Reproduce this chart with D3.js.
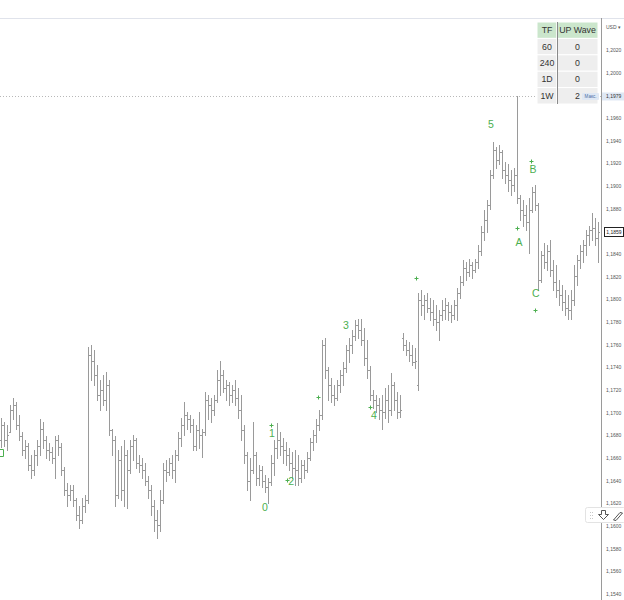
<!DOCTYPE html>
<html><head><meta charset="utf-8">
<script src="https://cdn.jsdelivr.net/npm/d3@7"></script>
<style>html,body{margin:0;padding:0;background:#fff;}svg{display:block;}</style>
</head><body>
<svg id="c" width="624" height="600"></svg>
<script>
// OHLC prices (EUR/USD), one bar per entry
const opens = [1.1676,1.1689,1.1676,1.1683,1.1702,1.1707,1.1689,1.1679,1.1667,1.1671,1.1654,1.1649,1.1663,1.1671,1.1686,1.1676,1.1667,1.1665,1.1660,1.1676,
1.1670,1.1649,1.1632,1.1627,1.1632,1.1623,1.1610,1.1605,1.1618,1.1623,1.1751,1.1746,1.1733,1.1716,1.1720,1.1711,1.1724,1.1685,1.1676,1.1627,
1.1658,1.1632,1.1663,1.1649,1.1671,1.1676,1.1656,1.1654,1.1649,1.1640,1.1632,1.1618,1.1605,1.1601,1.1623,1.1649,1.1648,1.1656,1.1649,1.1663,
1.1678,1.1689,1.1698,1.1694,1.1689,1.1671,1.1685,1.1680,1.1683,1.1711,1.1707,1.1702,1.1711,1.1729,1.1733,1.1722,1.1724,1.1716,1.1720,1.1713,
1.1702,1.1685,1.1663,1.1640,1.1649,1.1663,1.1642,1.1649,1.1640,1.1634,1.1639,1.1656,1.1669,1.1676,1.1671,1.1667,1.1663,1.1656,1.1651,1.1649,
1.1642,1.1654,1.1649,1.1660,1.1674,1.1680,1.1689,1.1698,1.1760,1.1738,1.1724,1.1716,1.1713,1.1724,1.1733,1.1739,1.1755,1.1760,1.1768,1.1777,
1.1773,1.1764,1.1748,1.1738,1.1716,1.1711,1.1707,1.1702,1.1701,1.1711,1.1702,1.1724,1.1711,1.1701,1.1766,1.1760,1.1755,1.1751,1.1745,1.1724,
1.1799,1.1795,1.1799,1.1792,1.1789,1.1783,1.1780,1.1786,1.1791,1.1795,1.1789,1.1786,1.1795,1.1806,1.1815,1.1828,1.1824,1.1830,1.1826,1.1833,
1.1843,1.1859,1.1870,1.1883,1.1910,1.1932,1.1923,1.1930,1.1914,1.1910,1.1905,1.1901,1.1910,1.1889,1.1879,1.1874,1.1868,1.1879,1.1895,1.1883,
1.1817,1.1839,1.1833,1.1843,1.1826,1.1815,1.1808,1.1804,1.1798,1.1792,1.1791,1.1799,1.1821,1.1835,1.1843,1.1848,1.1857,1.1861,1.1863,1.1854];
const highs = [1.1695,1.1692,1.1689,1.1707,1.1713,1.1709,1.1698,1.1683,1.1676,1.1673,1.1663,1.1667,1.1676,1.1694,1.1692,1.1679,1.1673,1.1670,1.1679,1.1680,
1.1673,1.1652,1.1638,1.1636,1.1636,1.1625,1.1618,1.1625,1.1627,1.1758,1.1760,1.1755,1.1742,1.1729,1.1733,1.1736,1.1729,1.1686,1.1679,1.1667,
1.1671,1.1676,1.1667,1.1676,1.1680,1.1678,1.1663,1.1660,1.1656,1.1644,1.1636,1.1623,1.1614,1.1632,1.1656,1.1658,1.1660,1.1663,1.1667,1.1683,
1.1695,1.1709,1.1701,1.1698,1.1694,1.1689,1.1701,1.1686,1.1718,1.1716,1.1713,1.1716,1.1738,1.1746,1.1738,1.1729,1.1727,1.1724,1.1729,1.1722,
1.1716,1.1689,1.1665,1.1660,1.1692,1.1665,1.1654,1.1653,1.1645,1.1642,1.1663,1.1676,1.1691,1.1683,1.1678,1.1674,1.1669,1.1665,1.1667,1.1663,
1.1658,1.1658,1.1665,1.1678,1.1685,1.1694,1.1702,1.1764,1.1766,1.1740,1.1731,1.1724,1.1729,1.1738,1.1745,1.1760,1.1766,1.1773,1.1782,1.1783,
1.1783,1.1775,1.1764,1.1741,1.1720,1.1716,1.1713,1.1716,1.1722,1.1724,1.1735,1.1727,1.1718,1.1716,1.1770,1.1764,1.1762,1.1760,1.1757,1.1806,
1.1808,1.1804,1.1806,1.1801,1.1799,1.1795,1.1791,1.1799,1.1801,1.1798,1.1795,1.1799,1.1810,1.1821,1.1835,1.1833,1.1836,1.1833,1.1836,1.1848,
1.1865,1.1879,1.1888,1.1914,1.1939,1.1934,1.1936,1.1932,1.1921,1.1919,1.1914,1.1916,1.1979,1.1892,1.1888,1.1883,1.1889,1.1899,1.1901,1.1885,
1.1843,1.1850,1.1848,1.1852,1.1835,1.1830,1.1817,1.1813,1.1808,1.1804,1.1808,1.1830,1.1839,1.1848,1.1852,1.1861,1.1865,1.1876,1.1872,1.1868];
const lows = [1.1670,1.1671,1.1667,1.1683,1.1694,1.1686,1.1676,1.1663,1.1660,1.1649,1.1642,1.1645,1.1654,1.1663,1.1669,1.1660,1.1658,1.1656,1.1642,1.1663,
1.1645,1.1627,1.1618,1.1623,1.1618,1.1605,1.1598,1.1603,1.1612,1.1620,1.1729,1.1724,1.1711,1.1702,1.1707,1.1702,1.1680,1.1663,1.1618,1.1625,
1.1623,1.1618,1.1616,1.1647,1.1658,1.1651,1.1648,1.1642,1.1636,1.1625,1.1610,1.1596,1.1589,1.1596,1.1620,1.1640,1.1645,1.1642,1.1639,1.1658,
1.1671,1.1680,1.1686,1.1683,1.1667,1.1667,1.1669,1.1661,1.1680,1.1694,1.1692,1.1698,1.1709,1.1716,1.1718,1.1711,1.1707,1.1709,1.1707,1.1695,
1.1676,1.1656,1.1632,1.1623,1.1647,1.1636,1.1636,1.1634,1.1630,1.1620,1.1636,1.1645,1.1660,1.1663,1.1656,1.1654,1.1649,1.1642,1.1636,1.1636,
1.1639,1.1642,1.1648,1.1658,1.1667,1.1674,1.1685,1.1694,1.1731,1.1711,1.1709,1.1707,1.1711,1.1718,1.1724,1.1736,1.1745,1.1753,1.1764,1.1766,
1.1760,1.1742,1.1731,1.1711,1.1704,1.1701,1.1694,1.1686,1.1695,1.1692,1.1698,1.1702,1.1695,1.1696,1.1755,1.1751,1.1746,1.1742,1.1739,1.1720,
1.1786,1.1783,1.1789,1.1782,1.1777,1.1773,1.1764,1.1782,1.1783,1.1782,1.1780,1.1783,1.1782,1.1801,1.1813,1.1817,1.1821,1.1819,1.1824,1.1828,
1.1839,1.1852,1.1859,1.1880,1.1907,1.1916,1.1919,1.1907,1.1903,1.1896,1.1892,1.1896,1.1885,1.1870,1.1865,1.1861,1.1841,1.1877,1.1879,1.1808,
1.1815,1.1828,1.1826,1.1821,1.1808,1.1802,1.1795,1.1791,1.1786,1.1783,1.1783,1.1795,1.1813,1.1828,1.1833,1.1839,1.1848,1.1852,1.1848,1.1833];
const closes = [1.1689,1.1676,1.1680,1.1702,1.1707,1.1689,1.1679,1.1667,1.1671,1.1654,1.1649,1.1663,1.1671,1.1686,1.1676,1.1667,1.1665,1.1660,1.1676,1.1670,
1.1649,1.1632,1.1627,1.1632,1.1623,1.1610,1.1605,1.1618,1.1623,1.1751,1.1746,1.1733,1.1716,1.1720,1.1711,1.1724,1.1685,1.1676,1.1627,1.1658,
1.1632,1.1663,1.1649,1.1671,1.1676,1.1656,1.1654,1.1649,1.1640,1.1632,1.1618,1.1605,1.1601,1.1623,1.1649,1.1648,1.1656,1.1649,1.1663,1.1678,
1.1689,1.1698,1.1694,1.1689,1.1671,1.1685,1.1680,1.1683,1.1711,1.1707,1.1702,1.1711,1.1729,1.1733,1.1722,1.1724,1.1716,1.1720,1.1713,1.1702,
1.1685,1.1663,1.1640,1.1649,1.1663,1.1642,1.1649,1.1640,1.1634,1.1639,1.1656,1.1669,1.1676,1.1671,1.1667,1.1663,1.1656,1.1651,1.1649,1.1642,
1.1654,1.1649,1.1660,1.1674,1.1680,1.1689,1.1698,1.1760,1.1738,1.1724,1.1716,1.1713,1.1724,1.1733,1.1739,1.1755,1.1760,1.1768,1.1777,1.1773,
1.1764,1.1748,1.1738,1.1716,1.1711,1.1707,1.1702,1.1701,1.1711,1.1702,1.1724,1.1711,1.1701,1.1702,1.1760,1.1755,1.1751,1.1745,1.1746,1.1799,
1.1795,1.1799,1.1792,1.1789,1.1783,1.1780,1.1786,1.1791,1.1795,1.1789,1.1786,1.1795,1.1806,1.1815,1.1828,1.1824,1.1830,1.1826,1.1833,1.1843,
1.1859,1.1870,1.1883,1.1910,1.1932,1.1923,1.1930,1.1914,1.1910,1.1905,1.1901,1.1910,1.1889,1.1879,1.1874,1.1868,1.1879,1.1895,1.1883,1.1817,
1.1839,1.1833,1.1843,1.1826,1.1815,1.1808,1.1804,1.1798,1.1792,1.1791,1.1799,1.1821,1.1835,1.1843,1.1848,1.1857,1.1861,1.1863,1.1854,1.1859];

const yTicks = [1.1540,1.1560,1.1580,1.1600,1.1620,1.1640,1.1660,1.1680,1.1700,1.1720,1.1740,1.1760,1.1780,1.1800,
1.1820,1.1840,1.1860,1.1880,1.1900,1.1920,1.1940,1.1960,1.1980,1.2000,1.2020];
const maxPrice = 1.1979;
const lastPrice = 1.1859;
const maxLabel = "Макс.";
const currencyLabel = "USD ▾";

// wave labels (bar position, price)
const waveText  = ["0","1","2","3","4","5","A","B","C"];
const waveIndex = [88,90.3,96.7,115,124.3,163.3,172.7,177.3,178.3];
const wavePrice = [1.1617,1.1682,1.1640,1.1777,1.1698,1.1955,1.1851,1.1915,1.1806];
const plusIndex = [90,95.3,105.7,123,138.3,172,176.7,178];
const plusPrice = [1.1689,1.1641,1.1714,1.1705,1.1819,1.1863,1.1922,1.1791];
// partly visible label fragment at the left edge (bar position, price)
const edgeMarkIndex = -0.4;
const edgeMarkPrice = 1.1664;

// table
const tableHeader = ["TF","UP Wave"];
const tableTF = ["60","240","1D","1W"];
const tableWave = [0,0,0,2];

const W = 624, H = 600, axisX = 601, topY = 18;
const svg = d3.select("#c");
const font = "'Liberation Sans', Arial, sans-serif";
const green = "#4caf50";

const x = d3.scaleLinear().domain([0, opens.length - 1]).range([1, 598]);
const y = d3.scaleLinear().domain([1.1540, 1.2020]).range([594, 50]);
const fmt = p => d3.format(".4f")(p).replace(".", ",");

svg.append("rect").attr("width", W).attr("height", H).attr("fill", "#fff");
svg.append("defs").append("clipPath").attr("id", "clip")
  .append("rect").attr("x", 0).attr("y", topY + 1).attr("width", axisX).attr("height", H - topY);

// top separator
svg.append("line").attr("x1", 0).attr("x2", W).attr("y1", topY + 0.5).attr("y2", topY + 0.5)
  .attr("stroke", "#e0e3eb");

const plot = svg.append("g").attr("clip-path", "url(#clip)");

// max dashed line
plot.append("line").attr("x1", 0).attr("x2", axisX).attr("y1", Math.round(y(maxPrice)) + 0.5).attr("y2", Math.round(y(maxPrice)) + 0.5)
  .attr("stroke", "#b8b8b8").attr("stroke-dasharray", "1,2");

// OHLC bars
const bars = plot.append("g").attr("fill", "#9a9a9a");
opens.forEach((o, i) => {
  const cx = Math.round(x(i));
  const yh = Math.round(y(highs[i])), yl = Math.round(y(lows[i]));
  const g = bars.append("g");
  g.append("rect").attr("x", cx).attr("y", yh).attr("width", 1).attr("height", Math.max(1, yl - yh + 1));
  g.append("rect").attr("x", cx - 1).attr("y", Math.round(y(o))).attr("width", 1).attr("height", 1);
  g.append("rect").attr("x", cx + 1).attr("y", Math.round(y(closes[i]))).attr("width", 1).attr("height", 1);
});

// wave labels
plot.append("g").selectAll("text").data(waveText).join("text")
  .attr("x", (d, i) => x(waveIndex[i])).attr("y", (d, i) => y(wavePrice[i]))
  .attr("text-anchor", "middle").attr("dominant-baseline", "central")
  .attr("font-family", font).attr("font-size", 10.5).attr("fill", green).text(d => d);
plot.append("g").selectAll("path").data(plusIndex).join("path")
  .attr("d", (d, i) => {
    const px = Math.round(x(d)) + 0.5, py = Math.round(y(plusPrice[i])) + 0.5;
    return `M${px - 2},${py}H${px + 2}M${px},${py - 2}V${py + 2}`;
  })
  .attr("stroke", green).attr("stroke-width", 1).attr("fill", "none");
{
  const ex = Math.round(x(edgeMarkIndex)), ey = Math.round(y(edgeMarkPrice));
  plot.append("path").attr("d", `M${ex - 1},${ey - 3.5}H${ex + 3.5}V${ey + 3.5}H${ex - 1}`)
    .attr("fill", "none").attr("stroke", green).attr("stroke-width", 1);
}

// table
const tX = 537, tW1 = 20, tW2 = 41, rowH = 16.4, tY = 22;
const tg = svg.append("g").attr("font-family", font).attr("font-size", 8.8).attr("fill", "#333");
const rows = [tableHeader].concat(tableTF.map((t, i) => [t, String(tableWave[i])]));
rows.forEach((r, ri) => {
  const ry = tY + ri * rowH;
  const fill = ri === 0 ? "#cbe6cc" : "#eeeeee";
  tg.append("rect").attr("x", tX).attr("y", ry).attr("width", tW1).attr("height", rowH).attr("fill", fill).attr("stroke", "#fff").attr("stroke-width", 1);
  tg.append("rect").attr("x", tX + tW1).attr("y", ry).attr("width", tW2).attr("height", rowH).attr("fill", fill).attr("stroke", "#fff").attr("stroke-width", 1);
  tg.append("text").attr("x", tX + tW1 / 2).attr("y", ry + rowH / 2).attr("text-anchor", "middle").attr("dominant-baseline", "central").text(r[0]);
  tg.append("text").attr("x", tX + tW1 + tW2 / 2).attr("y", ry + rowH / 2).attr("text-anchor", "middle").attr("dominant-baseline", "central").text(r[1]);
});
tg.append("line").attr("x1", tX + tW1 + 0.5).attr("x2", tX + tW1 + 0.5).attr("y1", tY).attr("y2", tY + rowH * rows.length)
  .attr("stroke", "#8a8a8a");

// right axis
svg.append("rect").attr("x", axisX + 1).attr("y", topY + 1).attr("width", W - axisX).attr("height", H).attr("fill", "#fff");
svg.append("line").attr("x1", axisX + 0.5).attr("x2", axisX + 0.5).attr("y1", topY).attr("y2", H).attr("stroke", "#9a9a9a");
const shown = yTicks.filter(t => Math.abs(y(t) - y(maxPrice)) > 6 && Math.abs(y(t) - y(lastPrice)) > 6);
const ax = svg.append("g").attr("transform", `translate(${axisX},0)`)
  .call(d3.axisRight(y).tickValues(shown).tickFormat(fmt).tickSize(0).tickPadding(5));
ax.select(".domain").remove();
ax.selectAll("text").attr("font-family", font).attr("font-size", 5).attr("fill", "#555");

svg.append("text").attr("x", axisX + 5).attr("y", 27).attr("dominant-baseline", "central")
  .attr("font-family", font).attr("font-size", 5).attr("fill", "#555").text(currencyLabel);

// max label
const ym = y(maxPrice);
svg.append("rect").attr("x", axisX + 1).attr("y", ym - 4).attr("width", 22).attr("height", 8).attr("fill", "#dfe8f4");
svg.append("text").attr("x", axisX + 5).attr("y", ym).attr("dominant-baseline", "central")
  .attr("font-family", font).attr("font-size", 5).attr("fill", "#333").text(fmt(maxPrice));
svg.append("rect").attr("x", 582).attr("y", ym - 3.5).attr("width", 17).attr("height", 7).attr("rx", 1).attr("fill", "#dfe8f4");
svg.append("text").attr("x", 590.5).attr("y", ym).attr("text-anchor", "middle").attr("dominant-baseline", "central")
  .attr("font-family", font).attr("font-size", 4.5).attr("fill", "#4a6fa5").text(maxLabel);

// last price label
const yl = y(lastPrice);
svg.append("rect").attr("x", axisX + 3.5).attr("y", Math.round(yl) - 4.5).attr("width", 19).attr("height", 9)
  .attr("fill", "#fff").attr("stroke", "#222").attr("stroke-width", 1);
svg.append("text").attr("x", axisX + 13).attr("y", yl).attr("text-anchor", "middle").attr("dominant-baseline", "central")
  .attr("font-family", font).attr("font-size", 5).attr("fill", "#222").text(fmt(lastPrice));

// small toolbar
const tb = svg.append("g");
tb.append("rect").attr("x", 585.5).attr("y", 507.5).attr("width", 40).attr("height", 15).attr("rx", 2)
  .attr("fill", "#fff").attr("stroke", "#e3e3e3");
[[590, 512], [592, 512], [590, 515], [592, 515], [590, 518], [592, 518]].forEach(p =>
  tb.append("rect").attr("x", p[0]).attr("y", p[1]).attr("width", 1).attr("height", 1).attr("fill", "#c8c8c8"));
tb.append("path").attr("d", "M601.5,510.5V514.5H598.5L603.5,519.5L608.5,514.5H605.5V510.5Z")
  .attr("fill", "none").attr("stroke", "#444").attr("stroke-width", 0.9);
tb.append("path").attr("d", "M613.5,520L620,512.5M616,520.5L622.5,513M613.5,520L616,520.5M620,512.5L622.5,513")
  .attr("fill", "none").attr("stroke", "#444").attr("stroke-width", 0.9);
</script>
</body></html>
